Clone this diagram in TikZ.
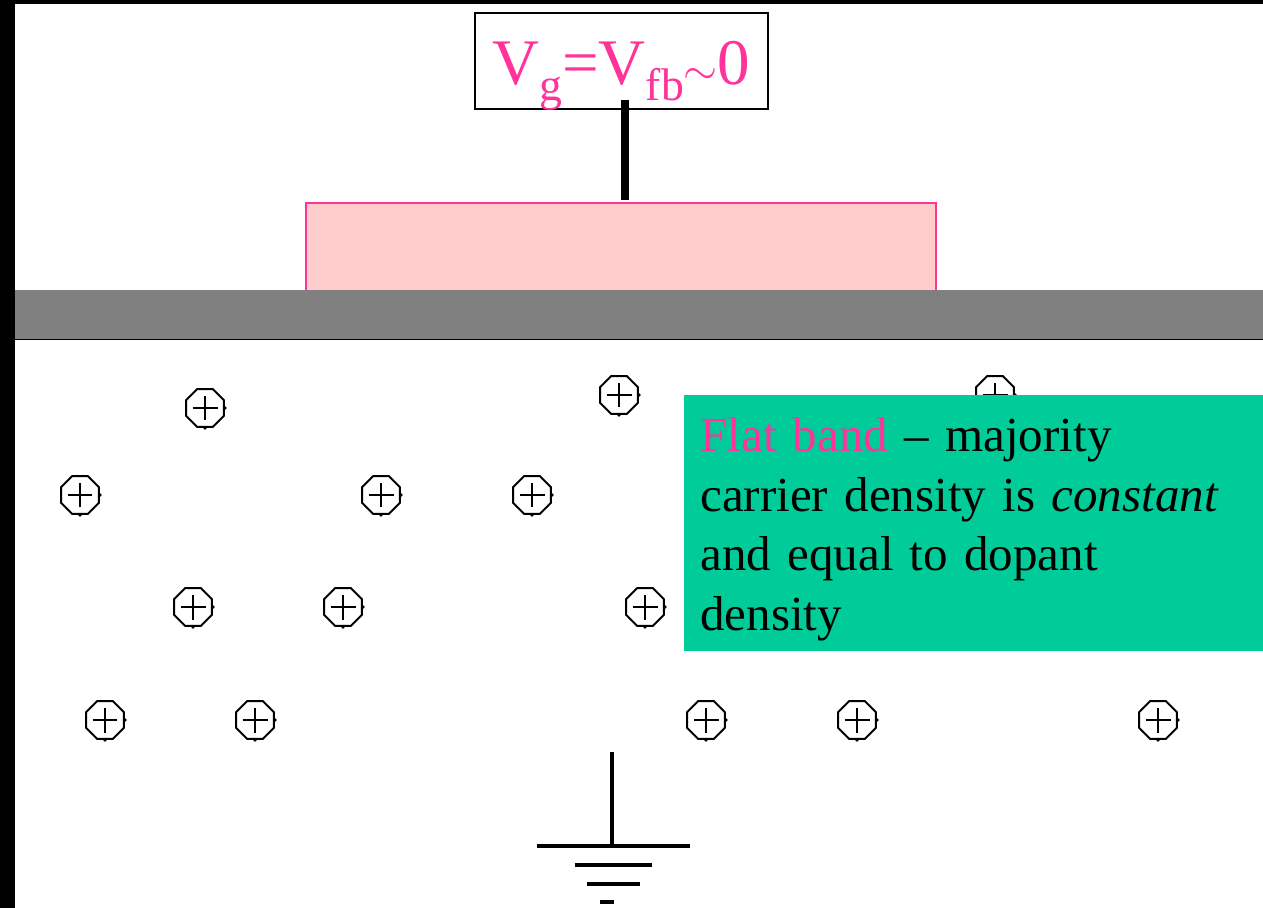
\documentclass[tikz,border=0pt]{standalone}
\usepackage{fontspec}
\setmainfont{Liberation Serif}
\usetikzlibrary{shapes.geometric}
\definecolor{hotpink}{HTML}{FF3399}
\definecolor{gatepink}{HTML}{FFCCCC}
\definecolor{notegreen}{HTML}{00CC99}
\newcommand{\lowsub}[1]{\raisebox{-9pt}{\fontsize{26}{26}\selectfont #1}}
\tikzset{
  ion/.style={regular polygon,regular polygon sides=8,
    draw,line width=1.1pt,minimum size=0.82cm,inner sep=0pt,fill=white,
    path picture={
      \draw[line width=0.7pt] ([xshift=-0.25cm]path picture bounding box.center) -- ([xshift=0.25cm]path picture bounding box.center);
      \draw[line width=0.7pt] ([yshift=-0.25cm]path picture bounding box.center) -- ([yshift=0.25cm]path picture bounding box.center);
    }},
  earth/.style={line width=2pt},
}
\begin{document}
\begin{tikzpicture}[x=0.02cm,y=-0.02cm]
  \useasboundingbox (0,0) rectangle (1263,908);
  \fill[black] (0,0) rectangle (1263,908);
  \fill[white] (15,4) rectangle (1263,908);
  % gate and oxide
  \draw[hotpink,fill=gatepink,line width=0.6pt] (306,290) |- (936,203) -- (936,290);
  \fill[gray] (15,290) rectangle (1263,339);
  \draw[line width=1.1pt] (15,339.5) -- (1263,339.5);
  % voltage label
  \node[draw,line width=0.7pt,minimum width=5.86cm,minimum height=1.92cm,inner sep=0pt,text=hotpink,
    font=\fontsize{37}{37}\selectfont] (vlabel) at (621.5,61)
    {\raisebox{-13.6pt}[0pt][0pt]{V\lowsub{g}=V\lowsub{fb}$\sim$0}};
  \coordinate (gatetop) at (625,200);
  \coordinate (wiretop) at (625,100);
  \draw[line width=4.6pt] (wiretop) -- (gatetop);
  % dopant ions
  \foreach \x/\y [count=\i] in {205/408,619/395,995/395,80/495,381/495,532/495,193/607,343/607,645/607,
      105/720,255/720,706/720,857/720,1158/720}{
    \node[ion] (ion\i) at (\x,\y) {};
    \fill (ion\i.east) circle (1.1pt);
    \fill (ion\i.south) circle (1.1pt);
  }
  % note
  \fill[notegreen] (684,395) rectangle (1263,651);
  \node[anchor=north west,inner sep=0pt,text width=11cm,align=left,
    font=\fontsize{27.9}{34}\selectfont] (note) at (700,417)
    {\textcolor{hotpink}{Flat band} -- majority\\carrier density is \textit{constant}\\and equal to dopant\\density};
  % ground
  \coordinate (gndtop) at (612,752);
  \coordinate (gndbar) at (612,846);
  \draw[earth] (gndtop) -- (gndbar);
  \draw[earth] (537,846) -- (690,846);
  \draw[earth] (575,865) -- (652,865);
  \draw[earth] (587,884) -- (640,884);
  \draw[earth] (600,902) -- (614,902);
\end{tikzpicture}
\end{document}
